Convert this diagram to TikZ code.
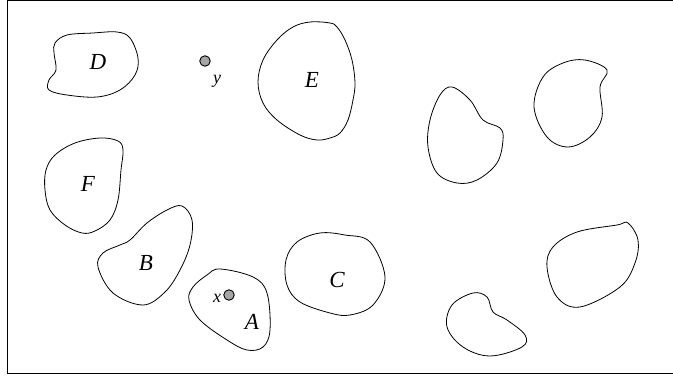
\documentclass[tikz,border=0pt]{standalone}
\usepackage{fontspec}
\setmainfont{Liberation Serif}
\begin{document}
\begin{tikzpicture}[x=1pt,y=-1pt,
  blob/.style={draw=black,line width=0.8pt},
  lab/.style={font=\itshape\fontsize{23}{23}\selectfont,inner sep=0pt},
  slab/.style={font=\itshape\fontsize{18}{18}\selectfont,inner sep=0pt},
  pt/.style={circle,draw=black,fill=gray!70,line width=0.9pt,minimum size=10.5pt,inner sep=0pt}]
\useasboundingbox (0,0) rectangle (673,377);
\draw[line width=1pt] (700,0.5) -- (7,0.5) -- (7,373) -- (700,373);
% D
\draw[blob] plot[smooth cycle,tension=0.6] coordinates {(55,43) (67,35) (93,33) (117,32) (130,38) (138,58) (135,75) (120,90) (97,97) (67,95) (49,90) (49,80) (56,70) (54,53)};
\node[lab] (D) at (98,62) {D};
% y
\node[pt] (py) at (205,61) {};
\node[slab] (ly) at (217,81) {y};
% E
\draw[blob] plot[smooth cycle,tension=0.6] coordinates {(310,22) (330,23) (337,27) (345,40) (352,60) (355,83) (353,100) (348,120) (340,133) (330,138) (317,140) (300,135) (277,120) (263,103) (258,82) (263,60) (277,40) (293,27)};
\node[lab] (E) at (312,80) {E};
% F
\draw[blob] plot[smooth cycle,tension=0.6] coordinates {(100,138) (118,141) (123,150) (121,170) (118,200) (110,220) (95,231) (82,233) (65,225) (50,210) (45,190) (46,170) (55,155) (75,143)};
\node[lab] (F) at (88,184) {F};
% B
\draw[blob] plot[smooth cycle,tension=0.6] coordinates {(182,206) (192,220) (190,245) (180,270) (165,292) (143,305) (113,293) (98,267) (103,253) (120,245) (130,240) (147,223) (167,210)};
\node[lab] (B) at (146,263) {B};
% A
\draw[blob] plot[smooth cycle,tension=0.6] coordinates {(220,269) (253,277) (267,293) (270,330) (263,347) (247,350) (227,340) (200,320) (189,300) (193,287) (207,275)};
\node[lab] (A) at (252,322) {A};
\node[pt] (px) at (229,295) {};
\node[slab] (lx) at (217,298) {x};
% C
\draw[blob] plot[smooth cycle,tension=0.6] coordinates {(320,233) (345,235) (370,242) (385,277) (373,305) (350,315) (330,313) (300,302) (287,285) (286,260) (297,242)};
\node[lab] (C) at (337,280) {C};
% unlabeled blobs
\draw[blob] plot[smooth cycle,tension=0.6] coordinates {(452,87) (470,100) (483,120) (500,128) (503,140) (497,163) (477,180) (457,183) (437,173) (428,147) (430,120) (440,95)};
\draw[blob] plot[smooth cycle,tension=0.6] coordinates {(585,60) (607,70) (600,87) (602,117) (590,137) (568,147) (547,137) (534,107) (543,77) (563,63)};
\draw[blob] plot[smooth cycle,tension=0.6] coordinates {(473,293) (487,297) (493,312) (507,320) (525,335) (522,347) (490,356) (463,347) (447,327) (452,305)};
\draw[blob] plot[smooth cycle,tension=0.6] coordinates {(628,223) (638,240) (635,263) (620,287) (580,307) (557,297) (547,267) (553,247) (577,232) (617,225)};
\end{tikzpicture}
\end{document}
